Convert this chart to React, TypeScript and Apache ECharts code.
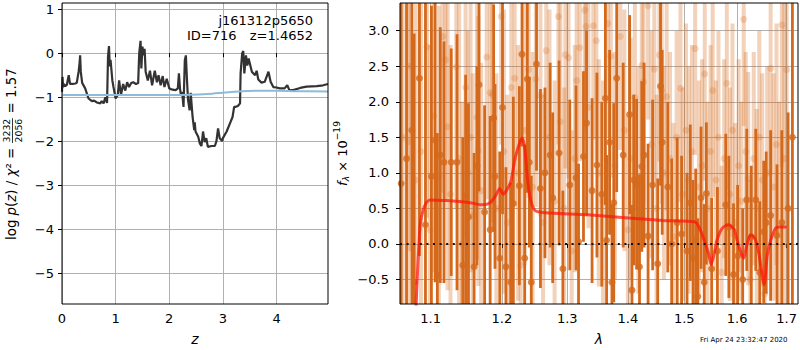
import React, { useEffect, useRef } from "react";
import * as echarts from "echarts";

// ---------- left panel: log p(z) ----------
const zValues = [0.0,0.01,0.02,0.04,0.06,0.09,0.125,0.15,0.2,0.25,0.275,0.31,0.33,0.338,0.35,0.376,0.432,0.494,0.557,0.6,0.651,0.714,0.74,0.776,0.808,0.84,0.858,0.876,0.89,0.905,0.939,0.96,1.0,1.04,1.065,1.1,1.14,1.18,1.215,1.25,1.29,1.327,1.38,1.42,1.44,1.465,1.48,1.5,1.52,1.54,1.56,1.6,1.64,1.68,1.73,1.77,1.8,1.84,1.878,1.91,1.953,2.0,2.06,2.12,2.16,2.18,2.2,2.216,2.24,2.266,2.29,2.31,2.33,2.35,2.38,2.4,2.435,2.466,2.475,2.49,2.54,2.57,2.6,2.63,2.66,2.69,2.72,2.79,2.85,2.88,2.91,2.94,2.985,3.0,3.07,3.13,3.18,3.21,3.24,3.28,3.32,3.33,3.36,3.38,3.4,3.43,3.455,3.48,3.54,3.6,3.63,3.66,3.72,3.78,3.85,3.89,3.94,4.0,4.06,4.15,4.2,4.24,4.31,4.44,4.56,4.75,4.87,4.96];
const logPz = [-0.88,-0.54,-0.77,-0.70,-0.75,-0.72,-0.50,-0.70,-0.70,-0.69,-0.675,-0.42,-0.2,-0.05,-0.42,-0.675,-0.80,-1.03,-1.09,-1.08,-1.12,-1.14,-1.09,-1.14,-1.0,-1.13,-0.08,0.16,-0.3,-0.15,-0.62,-0.77,-1.03,-0.95,-0.62,-0.95,-0.70,-0.85,-0.66,-0.77,-0.68,-0.66,-0.70,-0.68,0.0,0.28,-0.35,0.15,-0.05,0.1,-0.42,-0.62,-0.40,-0.73,-0.40,-0.66,-0.50,-0.73,-0.52,-0.77,-0.58,-0.80,-0.83,-0.84,-0.80,-0.46,-0.80,-0.94,-0.88,-1.22,-0.16,-0.05,-0.60,-1.06,-1.30,-0.90,-1.45,-1.75,-1.57,-1.78,-1.90,-2.05,-2.11,-1.78,-2.02,-1.93,-2.13,-2.11,-2.11,-2.0,-1.71,-1.93,-2.0,-1.93,-1.78,-1.60,-1.45,-1.22,-1.22,-1.20,-1.14,-0.46,0.0,0.05,-0.46,-0.05,-0.28,-0.12,-0.42,-0.50,-0.40,-0.60,-0.67,-0.65,-0.42,-0.65,-0.77,-0.78,-0.80,-0.80,-0.73,-0.84,-0.84,-0.79,-0.76,-0.75,-0.73,-0.70];
const priorZ = [0.0,1.0,2.0,2.4,2.8,3.0,3.3,3.6,4.0,4.4,4.96];
const priorLogP = [-0.95,-0.95,-0.95,-0.945,-0.92,-0.90,-0.87,-0.855,-0.855,-0.865,-0.87];
const leftXTicks = [0, 1, 2, 3, 4];
const leftYTicks = [-5, -4, -3, -2, -1, 0, 1];

// ---------- right panel: spectrum [lambda, flux, error] ----------
const darkPoints = [
  [1.061,0.85,4.5],[1.068,1.2,3.0],[1.075,1.6,2.5],[1.078,-0.54,3.5],[1.085,2.33,2.5],[1.093,0.27,3.2],[1.101,0.95,2.4],[1.106,1.46,2.0],[1.109,-0.44,2.0],[1.113,1.25,1.8],
  [1.118,1.15,1.7],[1.128,1.15,1.6],[1.136,1.15,1.8],[1.144,-0.3,1.8],[1.148,0.68,1.7],[1.152,0.38,1.6],[1.160,-0.32,1.6],[1.164,1.1,1.4],[1.167,2.24,1.5],[1.175,0.45,1.5],
  [1.183,0.2,1.6],[1.188,1.77,1.6],[1.190,0.95,1.3],[1.197,-0.2,1.5],[1.201,1.92,1.5],[1.206,-0.32,1.4],[1.213,-0.54,1.4],[1.217,0.57,1.5],[1.226,0.82,1.4],[1.230,2.67,1.3],
  [1.234,-0.2,1.6],[1.238,2.32,1.6],[1.241,1.15,1.2],[1.244,-0.54,1.5],[1.252,2.53,1.5],[1.258,0.78,1.4],[1.265,1.0,1.2],[1.273,1.25,1.3],[1.277,0.65,1.2],[1.287,1.28,1.3],
  [1.293,-0.35,1.1],[1.304,0.83,1.2],[1.314,0.93,1.3],[1.318,0.03,1.1],[1.326,1.23,1.2],[1.331,1.70,1.3],[1.340,0.75,1.3],[1.348,1.11,1.3],[1.356,0.70,1.3],[1.362,2.05,1.5],
  [1.364,0.05,1.2],[1.369,1.43,1.3],[1.373,-0.54,1.1],[1.376,0.58,1.4],[1.381,2.33,1.6],[1.392,1.25,1.3],[1.403,1.82,1.4],[1.407,-0.65,1.2],[1.410,0.9,1.2],[1.415,0.84,1.2],
  [1.420,-0.32,1.3],[1.424,1.09,1.2],[1.428,1.25,1.3],[1.435,0.11,1.3],[1.443,0.83,1.2],[1.452,-0.28,1.2],[1.457,2.22,1.4],[1.460,1.43,1.3],[1.470,0.8,1.2],[1.477,0.0,1.2],
  [1.487,0.3,1.2],[1.495,0.14,1.1],[1.505,-0.1,1.1],[1.511,0.58,1.1],[1.516,-0.2,1.1],[1.521,0.06,1.0],[1.525,-0.74,1.1],[1.531,0.65,1.0],[1.537,-0.54,1.1],[1.541,0.71,1.0],
  [1.551,-0.35,1.0],[1.562,-0.1,0.9],[1.578,0.55,1.0],[1.584,0.24,1.0],[1.593,-0.43,1.0],[1.601,-0.17,1.0],[1.611,-0.5,1.0],[1.619,0.62,1.0],[1.628,0.1,1.0],[1.637,0.62,1.0],
  [1.645,-0.4,1.0],[1.653,0.17,1.0],[1.658,0.30,1.0],[1.667,0.4,1.2],[1.680,0.12,1.0],[1.690,0.3,1.3],[1.703,0.5,1.35],[1.712,1.5,3.0]
];
const lightPoints = [
  [1.063,1.5,3.0],[1.070,1.44,2.5],[1.073,2.5,2.6],[1.080,0.9,2.8],[1.087,1.3,2.4],[1.095,2.77,2.4],[1.099,0.2,2.6],[1.104,1.8,2.2],[1.111,0.95,2.4],[1.116,2.92,2.2],
  [1.120,2.59,2.0],[1.123,1.65,2.3],[1.127,0.7,2.1],[1.135,2.49,2.0],[1.139,1.2,2.2],[1.143,0.0,2.0],[1.148,2.2,2.1],[1.151,1.0,2.0],[1.155,1.5,1.9],[1.158,0.4,2.0],
  [1.164,1.78,2.0],[1.166,1.31,1.9],[1.170,0.75,1.8],[1.178,2.63,2.0],[1.183,2.13,1.9],[1.186,2.1,1.8],[1.192,0.5,1.9],[1.199,3.2,1.8],[1.203,1.3,2.0],[1.208,0.3,1.8],
  [1.214,2.2,1.9],[1.219,2.33,1.8],[1.224,1.0,1.8],[1.228,-0.3,1.8],[1.234,1.6,1.9],[1.240,2.45,1.8],[1.246,0.8,1.9],[1.251,2.32,1.8],[1.258,2.09,1.7],[1.262,0.3,1.8],
  [1.267,2.72,1.7],[1.272,1.5,1.8],[1.280,0.6,1.7],[1.286,3.2,1.8],[1.289,1.72,1.7],[1.295,0.5,1.7],[1.297,2.66,1.6],[1.302,2.62,1.7],[1.307,-0.1,1.7],[1.312,1.2,1.6],
  [1.315,2.3,1.7],[1.320,2.76,1.6],[1.328,3.29,1.7],[1.330,3.06,1.6],[1.334,1.92,1.7],[1.342,3.07,1.6],[1.347,2.86,1.7],[1.351,1.0,1.6],[1.358,0.6,1.7],[1.366,3.1,1.6],
  [1.371,2.64,1.7],[1.378,1.1,1.6],[1.387,2.92,1.6],[1.394,1.6,1.7],[1.400,0.2,1.6],[1.405,1.2,1.7],[1.412,2.06,1.6],[1.418,0.9,1.6],[1.424,2.51,1.6],[1.427,2.28,1.7],
  [1.435,3.35,1.6],[1.441,1.4,1.6],[1.446,2.46,1.6],[1.450,0.5,1.6],[1.455,2.66,1.5],[1.459,2.16,1.6],[1.463,1.0,1.5],[1.468,2.07,1.6],[1.474,1.2,1.5],[1.480,0.1,1.6],
  [1.486,1.5,1.5],[1.493,2.19,1.6],[1.497,0.7,1.5],[1.503,1.6,1.5],[1.508,0.9,1.6],[1.514,1.3,1.5],[1.520,2.75,1.5],[1.527,0.8,1.5],[1.533,1.1,1.5],[1.538,2.39,1.5],
  [1.543,0.5,1.5],[1.549,1.3,1.5],[1.553,2.16,1.5],[1.559,0.9,1.4],[1.564,1.5,1.5],[1.570,-0.4,1.5],[1.575,1.2,1.4],[1.580,2.26,1.5],[1.586,0.7,1.5],[1.591,1.6,1.5],
  [1.596,0.3,1.4],[1.603,1.1,1.5],[1.608,0.6,1.4],[1.613,3.16,1.5],[1.617,1.3,1.4],[1.622,0.92,1.5],[1.626,-0.5,1.4],[1.633,1.2,1.5],[1.639,0.5,1.4],[1.644,1.5,1.5],
  [1.650,0.9,1.5],[1.655,-0.7,1.4],[1.660,1.0,1.5],[1.667,2.47,1.5],[1.673,0.8,1.6],[1.679,1.4,1.7],[1.684,0.2,1.8],[1.690,3.08,2.0],[1.695,1.2,2.2],[1.700,2.45,2.5]
];
const modelLambda = [1.078,1.082,1.086,1.090,1.094,1.099,1.121,1.154,1.171,1.183,1.191,1.197,1.202,1.206,1.213,1.220,1.226,1.230,1.234,1.238,1.243,1.250,1.266,1.333,1.461,1.520,1.530,1.537,1.545,1.550,1.556,1.561,1.571,1.583,1.594,1.600,1.608,1.613,1.619,1.627,1.635,1.643,1.652,1.654,1.660,1.667,1.677,1.684,1.700];
const modelFlux = [-1.5,-0.5,0.27,0.48,0.58,0.62,0.61,0.58,0.55,0.58,0.68,0.78,0.70,0.74,0.87,1.22,1.41,1.49,1.36,0.94,0.62,0.47,0.44,0.41,0.33,0.31,0.19,0.05,-0.13,-0.29,-0.13,0.05,0.22,0.27,0.21,0.05,-0.13,-0.20,-0.02,0.13,0.08,-0.13,-0.54,-0.57,-0.17,0.05,0.22,0.24,0.24];
const rightXTicks = [1.1, 1.2, 1.3, 1.4, 1.5, 1.6, 1.7];
const rightYTicks = [-0.5, 0.0, 0.5, 1.0, 1.5, 2.0, 2.5, 3.0];

const LAM_MIN = 1.0595;
const LAM_MAX = 1.7236;

const FONT = "DejaVu Sans";
const DARK = "#d5691b";
const LIGHT = "rgba(213,105,27,0.3)";

const minus = (v: number, digits: number) => {
  const s = Math.abs(v).toFixed(digits);
  return v < 0 ? "\u2212" + s : s;
};

let measureCtx: CanvasRenderingContext2D | null = null;
function measure(text: string, size: number, italic = false) {
  if (!measureCtx) measureCtx = document.createElement("canvas").getContext("2d");
  if (!measureCtx) return text.length * size * 0.6;
  measureCtx.font = `${italic ? "italic " : ""}${size}px "${FONT}"`;
  return measureCtx.measureText(text).width;
}

type Tok = { t: string; it?: boolean; rel?: number; dy?: number };

function textEl(text: string, x: number, y: number, size: number, opts: any = {}) {
  const align = opts.align || "left";
  const valign = opts.valign || "middle";
  return {
    type: "text",
    x,
    y,
    silent: true,
    style: {
      text,
      fill: "#000",
      fontSize: size,
      fontFamily: FONT,
      fontStyle: opts.italic ? "italic" : "normal",
      align,
      textAlign: align,
      verticalAlign: valign,
      textVerticalAlign: valign,
    },
  };
}

function layoutTokens(toks: Tok[], fs: number, start: number) {
  const children: any[] = [];
  let pos = start;
  toks.forEach((tk) => {
    const size = fs * (tk.rel || 1);
    children.push(textEl(tk.t, pos, (tk.dy || 0) * fs, size, { italic: tk.it }));
    pos += measure(tk.t, size, tk.it);
  });
  return { children, end: pos };
}

function leftYLabel() {
  const partA: Tok[] = [
    { t: "log " }, { t: "p", it: true }, { t: "(" }, { t: "z", it: true }, { t: ")" },
    { t: " / " }, { t: "\u03c7", it: true }, { t: "\u00b2" }, { t: " = " },
  ];
  const partB: Tok[] = [{ t: " = 1.57" }];
  const width = (fs: number) => {
    let w = 0;
    partA.concat(partB).forEach((tk) => (w += measure(tk.t, fs, tk.it)));
    w += Math.max(measure("3232", fs * 0.7), measure("2056", fs * 0.7)) + 2;
    return w;
  };
  let fs = (13 * 172) / width(13);
  fs = Math.max(11, Math.min(14, fs));
  const a = layoutTokens(partA, fs, 0);
  const fracW = Math.max(measure("3232", fs * 0.7), measure("2056", fs * 0.7)) + 2;
  const fc = a.end + fracW / 2;
  const frac = [
    textEl("3232", fc, -0.42 * fs + 1, fs * 0.7, { align: "center" }),
    textEl("2056", fc, 0.42 * fs + 1.5, fs * 0.7, { align: "center" }),
    { type: "line", silent: true, shape: { x1: a.end + 0.5, y1: 1, x2: a.end + fracW - 0.5, y2: 1 }, style: { stroke: "#000", lineWidth: 0.8 } },
  ];
  const b = layoutTokens(partB, fs, a.end + fracW);
  return {
    type: "group",
    x: 11.5,
    y: 240,
    rotation: Math.PI / 2,
    children: [...a.children, ...frac, ...b.children],
  };
}

function rightYLabel() {
  const fs = 13;
  const toks: Tok[] = [
    { t: "f", it: true },
    { t: "\u03bb", rel: 0.7, dy: 0.28, it: true },
    { t: " \u00d7 10" },
    { t: "\u221219", rel: 0.7, dy: -0.42 },
  ];
  const r = layoutTokens(toks, fs, 0);
  return {
    type: "group",
    x: 342,
    y: 153.5 + r.end / 2,
    rotation: Math.PI / 2,
    children: r.children,
  };
}

export default function App() {
  const ref = useRef<HTMLDivElement>(null);

  useEffect(() => {
    if (!ref.current) return;
    const chart = echarts.init(ref.current, undefined, { renderer: "svg" });

    const lnMin = Math.log(LAM_MIN);
    const lnMax = Math.log(LAM_MAX);

    const errRender = (width: number, color: string) => (params: any, api: any) => {
      const x = api.value(0);
      const y = api.value(1);
      const e = api.value(2);
      const top = api.coord([x, y + e]);
      const bot = api.coord([x, y - e]);
      const cs = params.coordSys;
      const y1 = Math.max(top[1], cs.y);
      const y2 = Math.min(bot[1], cs.y + cs.height);
      if (y2 <= y1) return null;
      const x0 = Math.max(top[0] - width / 2, cs.x);
      const x1 = Math.min(top[0] + width / 2, cs.x + cs.width);
      if (x1 <= x0) return null;
      return {
        type: "rect",
        shape: { x: x0, y: y1, width: x1 - x0, height: y2 - y1 },
        style: { fill: color },
      };
    };

    const axisCommon = {
      axisLine: { show: false },
      axisTick: { show: true, length: 4, lineStyle: { color: "#000", width: 1 } },
      splitLine: { show: true, lineStyle: { color: "#b0b0b0", width: 1 } },
    };
    const labelStyle = { color: "#000", fontSize: 13, fontFamily: FONT };

    const option: any = {
      animation: false,
      grid: [
        { left: 62, top: 3, width: 266, height: 301, containLabel: false },
        { left: 400, top: 3, width: 398, height: 301, containLabel: false },
      ],
      xAxis: [
        {
          type: "value", gridIndex: 0, min: 0, max: 4.96,
          ...axisCommon,
          axisTick: { ...axisCommon.axisTick, customValues: leftXTicks },
          axisLabel: { ...labelStyle, margin: 8, customValues: leftXTicks, formatter: (v: number) => String(v) },
        },
        {
          type: "value", gridIndex: 1, min: lnMin, max: lnMax,
          ...axisCommon,
          axisTick: { ...axisCommon.axisTick, customValues: rightXTicks.map((v) => Math.log(v)) },
          axisLabel: { ...labelStyle, margin: 8, customValues: rightXTicks.map((v) => Math.log(v)), formatter: (v: number) => Math.exp(v).toFixed(1) },
        },
      ],
      yAxis: [
        {
          type: "value", gridIndex: 0, min: -5.7, max: 1.14,
          ...axisCommon,
          axisTick: { ...axisCommon.axisTick, customValues: leftYTicks },
          axisLabel: { ...labelStyle, margin: 8, customValues: leftYTicks, formatter: (v: number) => minus(v, 0) },
        },
        {
          type: "value", gridIndex: 1, min: -0.845, max: 3.39,
          ...axisCommon,
          axisTick: { ...axisCommon.axisTick, customValues: rightYTicks },
          axisLabel: { ...labelStyle, margin: 11, customValues: rightYTicks, formatter: (v: number) => minus(v, 1) },
        },
      ],
      series: [
        {
          type: "line", xAxisIndex: 0, yAxisIndex: 0, showSymbol: false, symbol: "none",
          data: zValues.map((z, i) => [z, logPz[i]]),
          lineStyle: { color: "#333333", width: 2.2 }, z: 3,
        },
        {
          type: "line", xAxisIndex: 0, yAxisIndex: 0, showSymbol: false, symbol: "none", smooth: 0.4,
          data: priorZ.map((z, i) => [z, priorLogP[i]]),
          lineStyle: { color: "#8fbbd9", width: 2 }, z: 4,
        },
        {
          type: "custom", xAxisIndex: 1, yAxisIndex: 1, clip: true,
          renderItem: errRender(4, LIGHT),
          encode: { x: 0, y: 1 },
          data: lightPoints.map((p) => [Math.log(p[0]), p[1], p[2]]), z: 2,
        },
        {
          type: "scatter", xAxisIndex: 1, yAxisIndex: 1, clip: true, symbolSize: 7,
          itemStyle: { color: LIGHT },
          data: lightPoints.map((p) => [Math.log(p[0]), p[1]]), z: 2,
        },
        {
          type: "custom", xAxisIndex: 1, yAxisIndex: 1, clip: true,
          renderItem: errRender(2.8, DARK),
          encode: { x: 0, y: 1 },
          data: darkPoints.map((p) => [Math.log(p[0]), p[1], p[2]]), z: 3,
        },
        {
          type: "scatter", xAxisIndex: 1, yAxisIndex: 1, clip: true, symbolSize: 7,
          itemStyle: { color: DARK },
          data: darkPoints.map((p) => [Math.log(p[0]), p[1]]), z: 3,
        },
        {
          type: "line", xAxisIndex: 1, yAxisIndex: 1, showSymbol: false, symbol: "none", smooth: 0.25, clip: true,
          data: modelLambda.map((l, i) => [Math.log(l), modelFlux[i]]),
          lineStyle: { color: "rgba(255,20,10,0.72)", width: 3 }, z: 4,
        },
        {
          type: "line", xAxisIndex: 1, yAxisIndex: 1, showSymbol: false, symbol: "none",
          data: [[lnMin, 0], [lnMax, 0]],
          lineStyle: { color: "#111", width: 2, type: [2, 4.6] }, z: 5,
        },
      ],
      graphic: [
        { type: "rect", silent: true, z: 100, shape: { x: 62, y: 3, width: 266, height: 301 }, style: { fill: "none", stroke: "#000", lineWidth: 1 } },
        { type: "rect", silent: true, z: 100, shape: { x: 400, y: 3, width: 398, height: 301 }, style: { fill: "none", stroke: "#000", lineWidth: 1 } },
        { ...textEl("j161312p5650", 313, 20.5, 13, { align: "right" }), z: 100 },
        { ...textEl("ID=716", 236.5, 35, 13, { align: "right" }), z: 100 },
        { ...textEl("z=1.4652", 313, 35, 13, { align: "right" }), z: 100 },
        { ...textEl("z", 195, 339, 14, { align: "center", italic: true }), z: 100 },
        { ...textEl("\u03bb", 599, 339, 14, { align: "center", italic: true }), z: 100 },
        { ...textEl("Fri Apr 24 23:32:47 2020", 787.5, 340, 7, { align: "right" }), z: 100 },
        { ...leftYLabel(), z: 100 },
        { ...rightYLabel(), z: 100 },
      ],
    };

    chart.setOption(option);
    return () => chart.dispose();
  }, []);

  return <div ref={ref} style={{ width: 800, height: 350, position: "absolute", left: 0, top: 0 }} />;
}
